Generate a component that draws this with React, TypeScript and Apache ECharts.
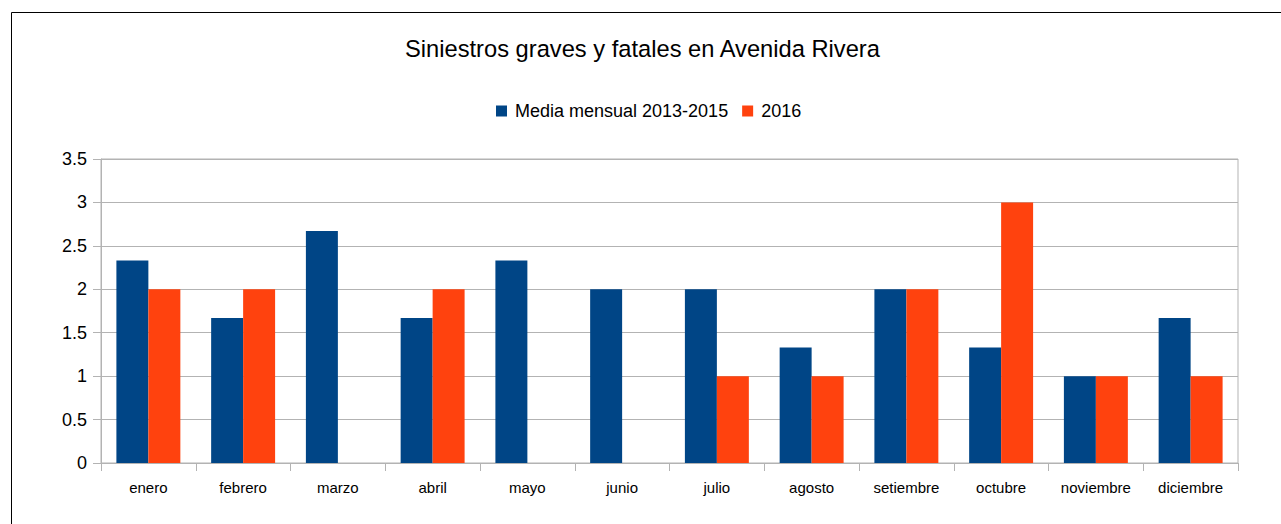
import React, { useEffect, useRef } from "react";
import * as echarts from "echarts";

const titleText = "Siniestros graves y fatales en Avenida Rivera";
const categories = ["enero", "febrero", "marzo", "abril", "mayo", "junio", "julio", "agosto", "setiembre", "octubre", "noviembre", "diciembre"];
const seriesNames = ["Media mensual 2013-2015", "2016"];
const media = [2.33, 1.67, 2.67, 1.67, 2.33, 2, 2, 1.33, 2, 1.33, 1, 1.67];
const y2016 = [2, 2, null, 2, null, null, 1, 1, 2, 3, 1, 1];
const colors = ["#004586", "#ff420e"];

export default function App() {
  const ref = useRef<HTMLDivElement>(null);
  useEffect(() => {
    document.body.style.margin = "0";
    const chart = echarts.init(ref.current!, null, { renderer: "svg" });
    const font = "'Liberation Sans', Arial, sans-serif";
    chart.setOption({
      animation: false,
      backgroundColor: "#ffffff",
      textStyle: { fontFamily: font, color: "#000" },
      title: {
        text: titleText,
        left: 405,
        top: 37,
        padding: 0,
        textStyle: { fontFamily: font, fontSize: 23.7, fontWeight: "normal", color: "#000" },
      },
      legend: {
        top: 102,
        left: 496,
        padding: 0,
        itemWidth: 11,
        itemHeight: 11,
        itemGap: 14,
        icon: "rect",
        textStyle: { fontFamily: font, fontSize: 18, color: "#000", padding: [0, 0, 0, 3] },
        data: seriesNames,
      },
      grid: {
        left: 101,
        right: 43,
        top: 159,
        bottom: 61,
        show: true,
        borderColor: "#b3b3b3",
        borderWidth: 1,
        containLabel: false,
      },
      xAxis: {
        type: "category",
        data: categories,
        axisLine: { lineStyle: { color: "#b3b3b3", width: 1 } },
        axisTick: { show: true, length: 8, lineStyle: { color: "#b3b3b3" } },
        axisLabel: { fontFamily: font, fontSize: 15, color: "#000", margin: 17 },
      },
      yAxis: {
        type: "value",
        min: 0,
        max: 3.5,
        interval: 0.5,
        axisLine: { show: true, lineStyle: { color: "#b3b3b3", width: 1 } },
        axisTick: { show: true, length: 8, lineStyle: { color: "#b3b3b3" } },
        axisLabel: { fontFamily: font, fontSize: 18, color: "#000", margin: 14 },
        splitLine: { lineStyle: { color: "#b3b3b3", width: 1 } },
      },
      series: [
        {
          name: seriesNames[0],
          type: "bar",
          data: media,
          itemStyle: { color: colors[0] },
          barGap: "0%",
          barCategoryGap: "32.5%",
        },
        {
          name: seriesNames[1],
          type: "bar",
          data: y2016,
          itemStyle: { color: colors[1] },
          barGap: "0%",
          barCategoryGap: "32.5%",
        },
      ],
      graphic: [
        {
          type: "rect",
          left: 9,
          top: 10,
          shape: { x: 0.5, y: 0.5, width: 1400, height: 700 },
          style: { fill: "none", stroke: "#000", lineWidth: 1 },
          silent: true,
        },
      ],
    });
    return () => chart.dispose();
  }, []);
  return <div ref={ref} style={{ width: 1281, height: 524 }} />;
}
